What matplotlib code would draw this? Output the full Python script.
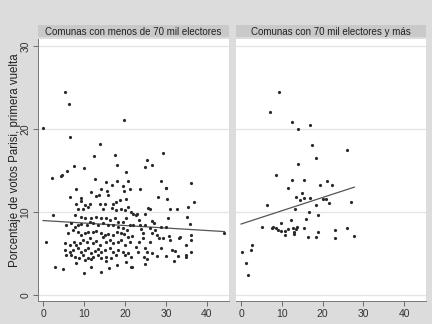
import numpy as np
import matplotlib.pyplot as plt

plt.rcParams['font.family'] = ['Liberation Sans', 'DejaVu Sans']

# Comunas con menos de 70 mil electores (x, y)
small_x = [5.3, 6.3, 19.8, 0.0, 6.6, 13.9, 12.5, 17.5, 18.1, 25.4, 29.2, 26.6, 25.0, 7.6, 10.0, 5.8, 20.2,
           2.2, 4.3, 12.6, 15.3, 18.0, 20.7, 8.1, 11.8, 14.2, 15.7, 16.8, 19.5, 19.8, 21.1,
           6.5, 9.2, 12.8, 13.6, 15.9, 17.9, 18.7, 17.1, 20.3, 8.1, 9.2, 10.2, 11.0, 8.5, 9.8, 11.4,
           13.8, 15.0, 14.6, 16.8, 17.9, 19.1, 19.9, 20.7, 21.4, 2.4, 7.7, 9.3, 10.2, 11.8, 13.0, 14.2,
           15.4, 16.3, 17.5, 18.3, 19.5, 20.3, 21.1, 5.7, 6.9, 7.7, 8.5, 9.3, 10.6, 11.4, 12.2, 13.4,
           14.6, 15.9, 17.1, 18.3, 19.5, 20.6, 6.1, 7.3, 8.4, 9.2, 10.2, 11.0, 12.2, 13.0, 14.2, 15.0,
           15.9, 17.1, 18.1, 18.9, 19.8, 20.7, 0.8, 5.3, 6.5, 7.6, 8.1, 9.0, 9.8, 10.6, 11.4, 12.2,
           13.0, 13.8, 14.6, 15.4, 16.3, 17.1, 18.3, 19.1, 20.1, 21.1, 5.4, 6.5, 7.3, 8.4, 9.3, 10.2,
           11.0, 11.8, 12.6, 13.4, 14.2, 15.0, 16.3, 17.1, 18.3, 19.5, 20.7, 5.7, 6.9, 7.7, 8.7, 9.8,
           11.0, 12.2, 13.3, 14.2, 15.4, 16.7, 17.9, 20.1, 21.4, 10.2, 11.8, 15.4, 18.1, 20.3, 2.8,
           4.9, 8.1, 10.0, 11.8, 14.2, 16.0, 21.4,
           28.8, 36.2, 30.0, 23.6, 28.0, 30.3, 36.9, 25.7, 26.2, 31.0, 32.6, 35.4, 22.0, 22.7, 23.0,
           24.9, 30.4, 35.2, 23.5, 26.7, 27.1, 35.8, 21.9, 23.6, 24.9, 28.9, 30.1, 44.3, 24.0, 26.2,
           27.3, 24.5, 26.5, 27.7, 21.7, 30.8, 33.4, 36.1, 24.3, 28.4, 29.2, 31.0, 33.2, 23.5, 26.1,
           34.9, 22.8, 24.9, 28.7, 31.6, 32.2, 36.2, 23.2, 25.3, 26.5, 30.1, 33.0, 34.9, 24.6, 25.4,
           27.7, 31.9, 24.9, 21.6, 36.1, 35.0, 4.6, 29.9]
small_y = [24.4, 23.0, 21.1, 20.1, 19.0, 18.2, 16.7, 16.8, 15.7, 16.3, 17.1, 15.7, 15.4, 15.5, 15.3, 14.9, 14.8,
           14.1, 14.3, 13.9, 13.6, 13.7, 13.7, 12.7, 12.4, 12.7, 12.5, 13.2, 13.1, 12.5, 12.8,
           11.8, 11.7, 11.9, 12.0, 12.0, 11.2, 11.4, 11.0, 11.6, 11.0, 11.3, 10.8, 10.6, 10.4, 10.4, 10.9,
           11.0, 10.9, 10.4, 10.5, 10.2, 10.4, 10.2, 10.6, 10.0, 9.6, 9.6, 9.4, 9.3, 9.2, 9.4, 9.3,
           9.2, 9.0, 9.2, 8.8, 8.8, 9.2, 8.4, 8.4, 8.6, 8.2, 8.4, 8.5, 8.4, 8.8, 8.6, 8.4,
           8.6, 8.4, 8.4, 8.2, 8.1, 7.8, 7.4, 7.8, 7.6, 7.2, 7.4, 7.6, 7.6, 7.7, 7.4, 7.2,
           7.3, 7.2, 7.6, 7.4, 7.3, 7.0, 6.4, 6.2, 6.0, 6.4, 6.0, 6.2, 6.6, 6.4, 6.8, 6.2,
           6.5, 6.0, 7.0, 6.4, 6.6, 6.2, 6.4, 6.6, 6.0, 6.4, 5.4, 5.1, 5.4, 5.6, 5.2, 5.4,
           5.6, 5.0, 5.3, 5.5, 5.2, 5.4, 5.6, 5.1, 5.4, 5.2, 5.0, 4.8, 4.8, 4.6, 4.4, 4.8,
           4.4, 4.5, 4.8, 4.4, 4.6, 4.4, 4.8, 4.8, 4.6, 4.2, 4.3, 4.1, 3.6, 4.0, 3.3,
           3.1, 3.8, 2.6, 3.4, 2.8, 3.2, 3.3,
           13.7, 13.5, 12.9, 12.7, 11.8, 11.6, 11.2, 10.5, 10.4, 10.4, 10.4, 10.6, 9.7, 9.6, 9.8,
           9.8, 9.3, 9.4, 9.0, 8.9, 8.6, 8.5, 8.4, 8.4, 8.4, 8.2, 8.2, 7.5, 7.9, 8.0,
           7.8, 7.4, 7.4, 7.2, 7.1, 7.1, 7.0, 7.2, 6.9, 6.9, 6.8, 6.6, 6.8, 6.4, 6.4,
           6.0, 5.8, 5.6, 5.7, 5.4, 5.3, 5.1, 5.2, 5.1, 5.0, 4.7, 4.7, 4.8, 4.6, 4.3,
           4.7, 4.1, 3.7, 3.4, 6.6, 4.6, 14.4, 12.9]
small_fit = [8.95, -0.030]   # intercept, slope
small_xmax = 44.3

# Comunas con 70 mil electores y más
big_x = [9.3, 7.2, 12.6, 14.0, 17.0, 17.4, 18.3, 25.9, 14.0, 8.6, 12.6, 15.5, 11.6, 19.3, 21.2, 22.4,
         14.9, 13.6, 14.5, 15.4, 16.8, 20.0, 20.8, 21.7, 26.9, 18.3, 6.4, 13.2, 16.7, 18.8, 16.0, 12.2,
         9.7, 5.1, 7.5, 7.9, 8.6, 9.1, 9.7, 10.8, 11.6, 12.7, 12.9, 13.1, 13.8, 13.5, 15.5, 10.8,
         16.5, 18.8, 18.3, 23.1, 23.0, 25.9, 27.6, 0.2, 2.4, 2.8, 1.3, 1.6]
big_y = [24.4, 22.0, 20.8, 20.0, 20.5, 18.0, 16.5, 17.4, 15.8, 14.5, 13.8, 13.8, 12.9, 13.2, 13.7, 13.2,
         12.3, 11.8, 11.4, 11.7, 11.7, 11.6, 11.6, 11.1, 11.2, 10.8, 10.8, 10.3, 9.95, 9.6, 9.15, 9.0,
         8.6, 8.15, 8.1, 8.2, 8.0, 7.8, 7.7, 7.7, 7.95, 8.0, 7.6, 7.35, 8.2, 7.9, 8.0, 7.15,
         7.0, 7.6, 6.95, 7.8, 6.83, 8.07, 7.07, 5.14, 5.38, 5.98, 3.85, 2.41]
big_fit = [8.53, 0.16]
big_xmax = 27.8

titles = ['Comunas con menos de 70 mil electores', 'Comunas con 70 mil electores y más']
ylabel = 'Porcentaje de votos Parisi, primera vuelta'
xticks = [0, 10, 20, 30, 40]
yticks = [0, 10, 20, 30]

bg = '#dcdcdc'
fig = plt.figure(figsize=(4.32, 3.24), dpi=100, facecolor=bg)

W, H = 432, 324
panels = [(38, 229, small_x, small_y, small_fit, small_xmax),
          (236, 426, big_x, big_y, big_fit, big_xmax)]

for i, (x0, x1, xs, ys, fit, xmax) in enumerate(panels):
    ax = fig.add_axes([x0 / W, 1 - 301 / H, (x1 - x0) / W, (301 - 39) / H])
    ax.set_facecolor('white')
    ax.set_xlim(-1.25, 45.4)
    ax.set_ylim(-0.75, 30.84)
    for yv in yticks:
        ax.axhline(yv, color='#e4e4e4', lw=0.9, zorder=0)
    ax.plot(xs, ys, 'o', ms=2.3, color='#2a2a2a', mec='none', zorder=3)
    fx = np.array([0, xmax])
    ax.plot(fx, fit[0] + fit[1] * fx, color='#555555', lw=0.9, zorder=2)

    ax.set_xticks(xticks)
    ax.set_xticklabels([str(t) for t in xticks], fontsize=7.5, color='#333333')
    ax.set_yticks(yticks)
    ax.tick_params(axis='both', length=3.5, width=0.6, color='#555555', pad=2)
    for s in ['top', 'right']:
        ax.spines[s].set_visible(False)
    ax.spines['bottom'].set_color('#777777')
    ax.spines['bottom'].set_linewidth(0.7)
    if i == 0:
        ax.set_yticklabels([str(t) for t in yticks], fontsize=7.5, color='#333333',
                           rotation=90, va='center')
        ax.spines['left'].set_color('#777777')
        ax.spines['left'].set_linewidth(0.7)
    else:
        ax.spines['left'].set_visible(False)
        ax.tick_params(axis='y', left=False, labelleft=False)

    # title strip
    strip = fig.add_axes([x0 / W, 1 - 37 / H, (x1 - x0) / W, 12 / H])
    strip.set_facecolor('#c9c9c9')
    strip.set_xticks([])
    strip.set_yticks([])
    for s in strip.spines.values():
        s.set_visible(False)
    strip.text(0.5, 0.45, titles[i], ha='center', va='center', fontsize=7, color='#222222',
               transform=strip.transAxes)

fig.text(15 / W, 1 - 160 / H, ylabel, rotation=90, ha='center', va='center',
         fontsize=8.3, color='#222222')

fig.savefig('out.png', dpi=100, facecolor=bg)
